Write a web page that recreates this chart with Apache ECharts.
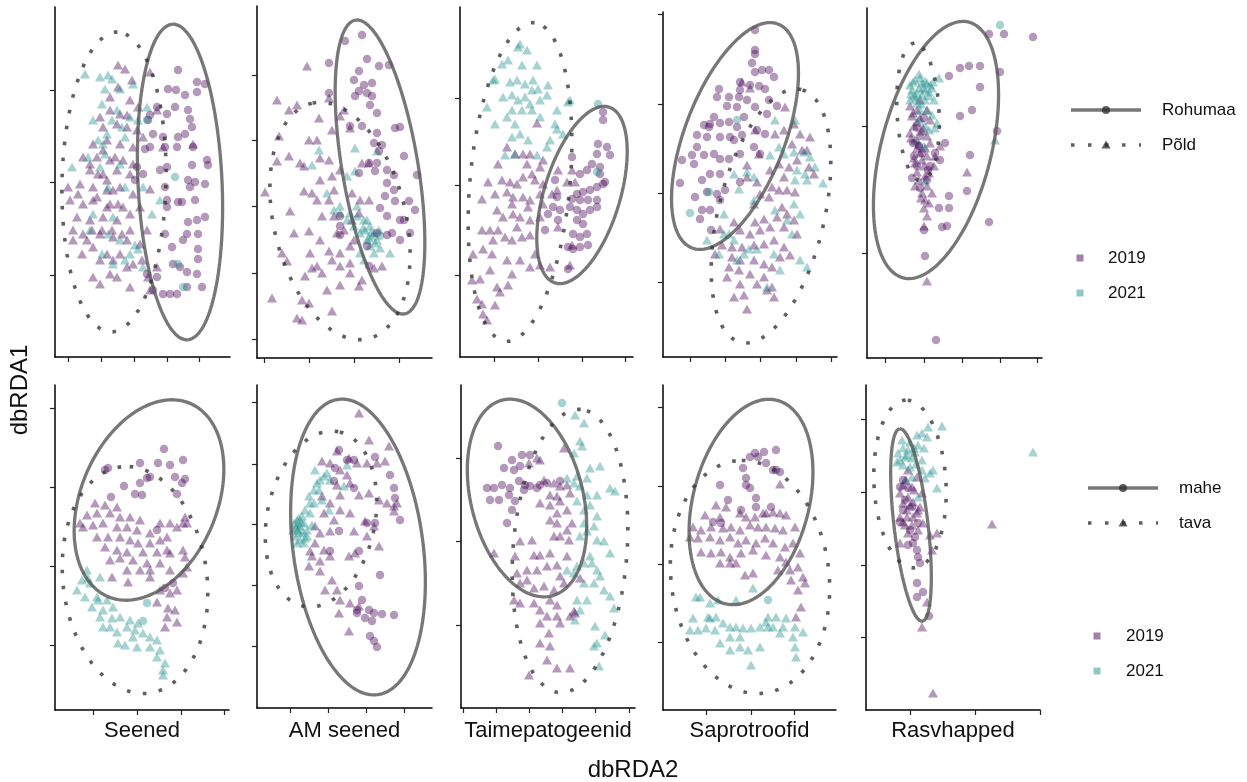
<!DOCTYPE html>
<html>
<head>
<meta charset="utf-8">
<script src="https://cdn.jsdelivr.net/npm/echarts@6/dist/echarts.min.js"></script>
<style>
  html, body { margin: 0; padding: 0; background: #fff; }
  #main { width: 1247px; height: 782px; }
</style>
</head>
<body>
<div id="main"></div>
<script>
// facetid (alumine rida = majandamine, ülemine = elupaik)
const facetNames = ['Seened', 'AM seened', 'Taimepatogeenid', 'Saprotroofid', 'Rasvhapped'];
const habitatLevels = ['Rohumaa', 'Põld'];
const farmingLevels = ['mahe', 'tava'];
const yearLevels = ['2019', '2021'];

// ---- ülemine rida: Rohumaa (ring) / Põld (kolmnurk) ----
// Seened
const p1c19 = [[123,287],[113,268],[121,267],[130,262],[142,275],[150,273],[142,265],[102,250],[120,250],[133,247],[95,242],[112,243],[135,238],[137,230],[98,223],[108,220],[123,220],[130,223],[95,210],[110,210],[122,210],[138,210],[152,197],[153,192],[137,192],[88,183],[112,190],[133,177],[140,175],[150,173],[80,177],[110,170],[123,155],[127,155],[140,157],[150,140],[142,137],[133,135],[112,150],[110,123],[132,123],[128,117],[143,108],[117,110],[143,98],[118,93],[125,90],[132,85],[142,83],[147,70],[132,70],[122,63],[115,63],[108,63],[98,67],[92,83],[102,80],[90,208],[82,190],[143,123],[93,237],[105,187],[112,157],[135,170]];
const p1c21 = [[120,180],[123,93],[128,70],[92,237]];
const p1t19 = [[63,292],[70,288],[77,277],[63,270],[55,260],[75,257],[95,285],[102,247],[83,250],[45,240],[48,230],[62,233],[72,230],[82,227],[88,220],[38,213],[52,217],[65,213],[78,210],[28,200],[42,200],[55,197],[68,197],[78,193],[35,187],[48,183],[62,187],[75,183],[25,173],[38,170],[52,167],[65,170],[78,163],[95,168],[15,157],[28,153],[42,160],[55,153],[68,150],[85,150],[22,140],[35,137],[48,140],[62,137],[75,127],[92,127],[18,117],[32,117],[45,123],[58,120],[72,117],[85,113],[27,103],[38,110],[52,103],[65,103],[78,93],[38,80],[45,73],[55,83],[72,90],[62,80],[75,70],[95,67],[93,80],[102,90],[138,213],[108,210],[13,170],[18,127],[52,177],[58,167],[38,157],[23,163],[43,183],[60,200],[48,207],[35,193],[72,242],[55,247],[65,243],[47,127],[57,127],[67,123],[37,127],[75,143],[52,150],[28,123],[45,97],[58,97],[87,97],[63,153]];
const p1t21 = [[30,283],[45,280],[53,282],[50,268],[57,278],[65,268],[78,273],[47,253],[62,247],[75,240],[92,250],[83,237],[38,237],[57,237],[70,220],[48,213],[33,200],[50,203],[65,193],[45,190],[17,190],[70,170],[53,170],[88,170],[105,157],[97,143],[38,143],[58,140],[53,123],[65,117],[80,112],[83,108],[88,90],[47,103],[70,97],[58,93],[75,103],[35,127],[43,217],[52,223],[67,230]];
// AM seened
const p2c19 = [[105,323],[88,317],[110,299],[122,292],[132,293],[72,295],[102,287],[97,278],[107,273],[115,275],[102,267],[110,265],[115,262],[113,253],[120,245],[105,232],[120,225],[138,230],[143,231],[117,215],[125,213],[112,195],[120,195],[130,188],[137,183],[118,187],[147,202],[160,183],[130,175],[137,168],[128,162],[138,157],[152,157],[158,148],[123,150],[130,142],[143,138],[120,125],[135,125],[153,125],[147,138],[83,132],[83,123],[143,118],[110,112],[130,123],[102,185],[83,142],[72,265],[122,207],[112,92],[93,232],[98,262]];
const p2c21 = [[123,122]];
const p2t19 = [[50,292],[20,258],[40,253],[32,248],[72,260],[62,240],[22,222],[52,218],[60,218],[75,228],[83,242],[93,230],[87,248],[20,197],[32,202],[43,195],[47,192],[63,200],[72,198],[83,188],[8,166],[33,147],[47,167],[55,165],[60,158],[72,158],[77,168],[95,165],[103,158],[112,158],[65,142],[77,142],[52,127],[63,118],[53,105],[72,107],[25,105],[30,97],[55,90],[65,85],[75,98],[83,92],[93,85],[102,72],[83,73],[70,68],[48,82],[15,60],[45,58],[52,55],[40,40],[45,38],[75,47],[93,95],[97,118],[93,112],[117,90],[125,92],[105,195],[112,195],[105,78],[60,92],[83,105],[37,125],[80,125],[87,128],[95,138],[102,145],[63,178],[75,182]];
const p2t21 = [[62,208],[98,210],[98,187],[55,193],[90,182],[70,165],[83,152],[120,207],[93,145],[100,142],[107,138],[113,132],[117,125],[120,118],[110,118],[103,125],[97,132],[90,138],[83,145],[77,148],[113,112],[123,110],[133,105],[103,105],[107,98],[117,105],[100,152],[108,128],[115,122],[122,128],[110,138],[112,120],[118,115],[106,130],[114,126]];
// Taimepatogeenid
const p3c19 = [[143,245],[143,237],[138,213],[147,210],[150,202],[137,203],[132,193],[140,190],[127,187],[120,183],[143,173],[137,170],[145,175],[130,167],[123,165],[117,163],[112,158],[120,157],[128,157],[137,157],[110,150],[117,147],[123,143],[130,147],[137,150],[117,137],[123,133],[113,123],[120,120],[127,123],[108,110],[113,108],[120,110],[128,112],[97,160],[93,150],[88,143],[98,137],[85,127],[95,177],[112,200],[100,147],[140,183],[108,88]];
const p3c21 = [[138,253],[137,185]];
const p3t19 = [[77,234],[47,210],[55,203],[63,203],[70,203],[80,190],[28,175],[42,177],[50,175],[57,173],[63,180],[72,183],[83,173],[92,163],[22,158],[35,163],[47,165],[53,160],[63,160],[70,157],[80,163],[83,153],[97,167],[37,147],[43,140],[53,143],[60,140],[70,137],[80,140],[22,127],[33,117],[45,120],[52,117],[62,120],[70,122],[13,103],[23,108],[32,103],[47,97],[60,97],[70,90],[80,92],[20,78],[30,87],[37,70],[48,72],[22,53],[35,52],[27,37],[23,43],[17,58],[40,65],[52,83],[75,103],[90,90],[98,130],[112,112],[110,92],[68,150],[57,130],[38,127],[52,153],[107,175],[112,187],[98,187],[115,175],[83,197],[12,77],[38,193],[67,193],[75,177],[30,127]];
const p3t21 = [[60,313],[67,307],[58,310],[42,293],[48,297],[62,292],[77,292],[35,278],[50,275],[57,277],[65,273],[73,277],[78,268],[88,272],[43,260],[52,262],[58,257],[65,260],[70,253],[80,257],[87,262],[27,250],[35,233],[52,247],[62,247],[72,247],[80,240],[95,233],[97,228],[52,220],[60,223],[68,217],[45,202],[55,203],[77,202],[90,217],[103,223],[108,255],[110,257],[97,247],[55,233],[47,240],[33,277],[72,267],[87,210]];
// Saprotroofid
const p4c19 = [[92,327],[92,307],[92,303],[89,294],[92,285],[99,287],[106,287],[111,280],[77,275],[87,272],[96,271],[102,268],[56,268],[77,267],[54,260],[66,260],[76,260],[84,257],[106,257],[114,251],[64,251],[74,250],[92,250],[104,243],[47,233],[57,234],[66,235],[41,232],[46,230],[74,230],[34,222],[44,220],[57,220],[67,220],[79,222],[94,227],[102,223],[29,202],[41,202],[51,203],[57,198],[66,198],[77,203],[19,197],[31,193],[47,183],[57,183],[77,175],[39,177],[17,174],[32,160],[44,165],[54,163],[62,167],[39,147],[47,147],[57,157],[37,138],[48,127],[91,210],[97,203],[34,210],[71,217],[51,240],[81,240]];
const p4c21 = [[74,237],[46,165],[27,144]];
const p4t19 = [[79,275],[87,269],[122,250],[92,227],[112,223],[121,227],[131,233],[137,223],[147,220],[129,213],[139,207],[84,192],[84,180],[94,175],[116,193],[126,190],[134,197],[144,207],[146,190],[151,183],[109,170],[116,167],[124,167],[132,165],[106,160],[119,150],[124,143],[114,140],[101,138],[92,135],[71,135],[57,128],[77,127],[87,123],[97,127],[107,130],[121,130],[131,137],[134,123],[59,112],[69,110],[79,110],[91,112],[101,113],[111,117],[121,110],[69,100],[77,97],[91,97],[101,93],[109,90],[117,100],[127,102],[66,90],[76,87],[87,83],[101,80],[109,70],[111,60],[71,60],[81,62],[84,48],[94,73],[104,67],[52,103],[64,80],[77,73],[96,203],[107,187],[121,180],[91,153],[97,163]];
const p4t21 = [[112,237],[132,237],[116,210],[107,202],[121,203],[131,205],[141,205],[134,187],[142,183],[147,200],[152,190],[160,174],[132,177],[144,177],[71,183],[76,168],[84,185],[91,180],[61,143],[66,123],[44,117],[56,103],[71,117],[81,103],[86,108],[94,108],[111,103],[124,137],[137,143],[131,153],[112,147],[129,123],[137,97],[144,90],[104,70],[74,97],[117,87],[61,123],[91,157]];
// Rasvhapped
const p5c19 = [[82,282],[93,290],[102,292],[113,292],[113,271],[122,324],[137,324],[166,321],[105,248],[93,242],[133,286],[130,227],[78,215],[73,198],[103,203],[100,167],[82,162],[72,150],[82,150],[75,131],[80,132],[122,136],[58,102],[69,18],[57,128],[60,178],[50,192],[47,202],[53,222],[52,212],[63,192],[68,205],[50,230],[57,240],[46,215],[55,205],[61,188],[45,180],[53,170]];
const p5c21 = [[133,333]];
const p5t19 = [[43,252],[50,248],[45,242],[53,240],[47,232],[55,227],[43,225],[60,222],[48,218],[63,215],[53,205],[60,202],[68,202],[48,195],[57,192],[62,185],[52,178],[60,172],[55,165],[58,158],[57,150],[60,142],[57,132],[100,186],[60,77],[53,258],[63,238],[73,212],[67,192],[65,165],[46,245],[50,236],[56,230],[44,220],[52,214],[58,210],[47,200],[55,198],[50,186],[58,182],[48,172],[54,160],[62,155],[50,210],[60,248]];
const p5t21 = [[43,273],[48,278],[53,280],[58,277],[63,273],[72,280],[45,268],[52,270],[58,268],[65,270],[47,262],[55,263],[62,262],[50,255],[58,258],[43,258],[53,248],[60,248],[65,243],[70,235],[52,238],[58,232],[50,217],[57,212],[62,228],[68,230],[58,177],[128,218],[55,275],[50,265],[67,258],[60,275],[46,276],[52,284],[56,270],[49,260],[62,266],[54,254],[44,264],[66,276]];

// ---- alumine rida: mahe (ring) / tava (kolmnurk) ----
const p6c19 = [[109,261],[85,247],[103,247],[128,250],[115,245],[53,242],[50,240],[120,233],[130,231],[127,227],[92,232],[95,233],[85,227],[69,224],[80,216],[87,215],[122,216],[56,213],[118,127],[110,122],[102,180]];
const p6c21 = [[92,107],[88,89]];
const p6t19 = [[40,207],[50,205],[62,203],[32,195],[42,197],[55,197],[65,193],[75,193],[85,190],[28,183],[38,185],[48,187],[62,183],[72,183],[82,180],[95,177],[105,187],[115,187],[122,183],[130,193],[132,187],[42,173],[53,173],[65,173],[75,170],[83,167],[95,167],[105,170],[112,160],[50,163],[62,160],[72,158],[88,158],[102,158],[115,157],[128,160],[130,153],[55,150],[65,152],[78,150],[92,147],[105,147],[115,140],[128,137],[57,133],[73,128],[95,133],[105,120],[115,117],[122,120],[102,108],[113,102],[120,100],[112,93],[122,88],[110,83],[95,140],[85,140],[72,140],[132,143],[128,187],[112,173],[25,187]];
const p6t21 = [[32,140],[27,130],[22,120],[35,127],[45,133],[30,113],[42,113],[52,110],[37,103],[48,100],[58,103],[45,93],[57,92],[65,93],[75,90],[83,87],[48,83],[62,78],[72,83],[78,73],[63,67],[70,65],[82,63],[95,73],[102,70],[88,77],[95,63],[105,60],[102,53],[110,47],[108,40],[108,35],[80,80],[43,110],[55,83],[33,132]];
const p7c19 = [[82,258],[90,248],[97,248],[118,251],[78,240],[77,227],[97,220],[110,185],[118,185],[133,233],[137,220],[138,210],[143,188],[82,177],[102,157],[123,133],[102,122],[105,108],[100,98],[112,98],[117,95],[125,94],[137,93],[108,90],[115,87],[113,72],[117,67],[120,61],[100,95],[73,157]];
const p7c21 = [];
const p7t19 = [[102,295],[112,268],[132,262],[80,257],[92,250],[100,245],[110,245],[120,245],[128,247],[65,247],[73,245],[83,238],[90,233],[80,223],[93,225],[102,213],[112,215],[122,208],[137,197],[140,205],[65,212],[73,205],[83,198],[93,195],[67,195],[77,188],[58,182],[63,175],[73,177],[97,177],[110,172],[122,162],[58,165],[67,158],[55,152],[63,147],[73,152],[92,152],[98,155],[52,142],[63,137],[75,128],[80,118],[68,118],[83,108],[93,105],[102,102],[82,95],[92,77],[53,157],[117,182],[130,205],[137,202],[108,187],[83,213]];
const p7t21 = [[37,185],[40,188],[43,182],[42,175],[38,172],[47,185],[50,178],[45,192],[48,198],[53,205],[52,212],[57,218],[60,225],[63,228],[70,235],[67,232],[62,218],[57,205],[53,195],[50,172],[43,168],[40,165],[47,165],[55,183],[90,243],[87,222],[73,228],[58,238],[65,208],[72,198],[39,180],[41,178],[44,186],[46,176],[36,178],[40,183],[42,190],[48,170]];
const p8c19 = [[37,262],[61,253],[69,253],[51,248],[43,240],[53,238],[59,242],[26,220],[33,220],[41,223],[49,220],[58,227],[64,223],[29,208],[38,208],[48,213],[54,207],[63,218],[69,222],[76,220],[79,223],[51,198],[46,185],[86,225],[99,227]];
const p8c21 = [[101,305]];
const p8t19 = [[68,245],[76,250],[79,248],[103,260],[83,228],[93,225],[99,222],[106,223],[89,213],[96,212],[109,215],[79,205],[89,203],[99,207],[96,195],[106,198],[111,185],[106,178],[99,172],[108,168],[93,172],[89,155],[79,153],[73,153],[59,167],[33,155],[54,152],[66,138],[76,138],[86,142],[96,143],[106,152],[59,125],[66,128],[73,120],[83,122],[93,118],[103,125],[99,132],[53,108],[59,105],[89,108],[96,103],[73,105],[79,98],[86,92],[96,92],[79,85],[88,75],[99,85],[89,62],[86,48],[96,40],[109,40],[68,33],[79,65],[56,135],[119,130],[113,97],[109,92],[114,95],[71,168],[96,185],[89,188]];
const p8t21 = [[114,293],[123,285],[119,267],[121,262],[113,255],[129,240],[139,242],[106,230],[116,232],[126,230],[119,222],[113,225],[149,220],[154,217],[136,213],[126,213],[116,207],[129,203],[123,198],[136,192],[123,185],[133,182],[126,177],[119,172],[136,168],[143,167],[149,155],[129,152],[123,145],[116,142],[131,145],[136,138],[139,132],[133,125],[143,118],[149,112],[153,100],[116,108],[126,108],[119,98],[114,88],[134,82],[144,73],[136,65],[133,62],[138,42],[123,125],[113,135],[106,138]];
const p9c19 = [[87,253],[92,257],[101,258],[113,260],[95,253],[103,247],[110,240],[117,238],[80,242],[57,225],[83,225],[87,222],[65,210],[93,212],[78,200],[93,203],[50,188],[58,187],[108,203],[83,232],[113,240]];
const p9c21 = [[105,110]];
const p9t19 = [[117,226],[53,205],[63,203],[42,195],[57,193],[77,197],[83,193],[92,193],[103,197],[110,198],[117,197],[123,195],[30,183],[38,180],[48,183],[60,182],[68,183],[77,180],[87,185],[95,183],[103,183],[112,182],[120,180],[132,183],[27,173],[35,172],[47,173],[57,170],[67,173],[75,167],[83,170],[93,167],[102,172],[110,167],[122,163],[130,167],[48,157],[58,158],[67,153],[78,157],[90,160],[103,155],[117,153],[123,148],[137,157],[135,143],[128,130],[140,133],[142,127],[135,120],[67,147],[73,147],[82,135],[90,137],[115,140],[127,140],[138,103],[133,93],[38,158],[57,147],[100,197]];
const p9t21 = [[90,122],[33,113],[37,113],[55,110],[47,107],[73,110],[30,92],[45,93],[53,93],[27,80],[35,80],[43,82],[52,80],[60,87],[67,83],[73,83],[80,82],[88,82],[97,83],[105,93],[113,93],[120,83],[132,83],[140,78],[57,67],[67,60],[77,63],[85,60],[97,63],[105,83],[117,77],[130,73],[132,63],[133,53],[88,45],[103,88],[110,83],[123,92],[47,92],[67,73],[77,73]];
const p10c19 = [[37,230],[34,223],[42,222],[39,210],[46,203],[37,200],[52,187],[44,180],[47,167],[51,160],[52,153],[54,147],[51,127],[57,118],[51,113],[63,94],[34,188],[42,165],[49,173]];
const p10c21 = [];
const p10t19 = [[42,240],[51,233],[37,225],[46,223],[34,217],[42,213],[56,217],[37,207],[47,208],[54,203],[41,200],[51,197],[57,187],[37,188],[46,185],[42,177],[64,175],[71,177],[34,167],[66,160],[61,108],[56,83],[67,17],[126,186],[47,193],[41,193],[52,180],[34,193],[40,230],[48,220],[44,205],[52,200],[39,185]];
const p10t21 = [[62,283],[76,284],[51,275],[56,277],[61,273],[44,268],[52,265],[37,262],[42,260],[49,258],[32,257],[39,253],[46,252],[56,250],[31,248],[37,245],[44,243],[67,240],[59,232],[71,222],[52,213],[39,230],[46,233],[167,258],[64,237],[56,240],[36,270],[48,262],[58,262],[34,250],[50,246],[41,255]];

const circle2019 = [p1c19, p2c19, p3c19, p4c19, p5c19, p6c19, p7c19, p8c19, p9c19, p10c19];
const circle2021 = [p1c21, p2c21, p3c21, p4c21, p5c21, p6c21, p7c21, p8c21, p9c21, p10c21];
const tri2019 = [p1t19, p2t19, p3t19, p4t19, p5t19, p6t19, p7t19, p8t19, p9t19, p10t19];
const tri2021 = [p1t21, p2t21, p3t21, p4t21, p5t21, p6t21, p7t21, p8t21, p9t21, p10t21];

// telje jaotised (ilma siltideta)
const xTicks = [[13,46,79,112,144],[7,52,97,142],[34,78,122,165],[27,62,97,133,168],[18,57,95,133,170],
                [38,82,126,169],[33,71,109,147],[2,35,68,101,134,168],[43,88,131],[44,109,174]];
const yTicks = [[82,175,267],[19,85,152,218,283],[82,172,259],[75,164,253,343],[105,232],
                [65,144,223,302],[62,123,184,244,306],[83,167,250],[68,146,224,303],[73,145,218,291]];

// ellipsid: keskpunkt x, y, pooltelg a, pooltelg b, nurk (kraadi)
const ellRing = [[125,175,158,42,92.7],[123,191,149,38,99.5],[122,162,92,38,73],[72,221,120,50,69],[69,208,132,55,75.6],
                 [94,210,105,68,67],[101,161,149,65,97.6],[66,210,101,56,104.2],[88,208,105,58,75.6],[45,185,97,17,96.7]];
const ellTri = [[59,175,150,52,88.7],[83,137,121,66,103.5],[60,175,160,50,84.8],[108,141,130,53,76.5],[51,246,69,21,93],
                [80,130,114,72,97],[64,189,89,54,78.8],[109,157,142,57,85.7],[87,133,117,79,97],[44,226,84,36,93]];

// paneelide asukohad: vasak, ülemine, laius, kõrgus
const panelBox = [[55,7,175,350],[257,6,175,352],[460,7,173,350],[663,12,174,345],[867,8,175,350],
                  [55,385,174,325],[257,385,175,323],[461,385,174,323],[663,385,173,325],[866,385,174,325]];

const PURPLE = 'rgba(68,1,84,0.5)';
const TEAL = 'rgba(33,144,140,0.5)';
const FONT = '"Liberation Sans", Arial, sans-serif';

function ellipse(p) {
  const cx = p[0], cy = p[1], a = p[2], b = p[3], t = p[4] * Math.PI / 180;
  const out = [];
  for (let k = 0; k <= 160; k++) {
    const u = k / 160 * 2 * Math.PI;
    out.push([cx + a * Math.cos(u) * Math.cos(t) - b * Math.sin(u) * Math.sin(t),
              cy + a * Math.cos(u) * Math.sin(t) + b * Math.sin(u) * Math.cos(t)]);
  }
  return out;
}

const grids = [], xAxes = [], yAxes = [], series = [];
panelBox.forEach(function (box, i) {
  grids.push({ left: box[0], top: box[1], width: box[2], height: box[3], containLabel: false, show: false });
  const axisCommon = {
    type: 'value', gridIndex: i,
    axisLine: { show: true, onZero: false, lineStyle: { color: '#000', width: 1.5 } },
    axisLabel: { show: false },
    splitLine: { show: false }
  };
  xAxes.push(Object.assign({}, axisCommon, { min: 0, max: box[2],
    axisTick: { show: true, length: 5, customValues: xTicks[i], lineStyle: { color: '#222', width: 1.2 } } }));
  yAxes.push(Object.assign({}, axisCommon, { min: 0, max: box[3],
    axisTick: { show: true, length: 5, customValues: yTicks[i], lineStyle: { color: '#222', width: 1.2 } } }));

  const base = { type: 'scatter', xAxisIndex: i, yAxisIndex: i, silent: true };
  series.push(Object.assign({}, base, { data: tri2019[i], symbol: 'triangle', symbolSize: [10, 9], itemStyle: { color: PURPLE } }));
  series.push(Object.assign({}, base, { data: tri2021[i], symbol: 'triangle', symbolSize: [10, 9], itemStyle: { color: TEAL } }));
  series.push(Object.assign({}, base, { data: circle2019[i], symbol: 'circle', symbolSize: 8.5, itemStyle: { color: PURPLE } }));
  series.push(Object.assign({}, base, { data: circle2021[i], symbol: 'circle', symbolSize: 8.5, itemStyle: { color: TEAL } }));
  series.push({ type: 'line', xAxisIndex: i, yAxisIndex: i, silent: true, showSymbol: false, symbol: 'none', z: 5,
    data: ellipse(ellRing[i]), lineStyle: { color: 'rgba(85,85,85,0.8)', width: 3.3 } });
  series.push({ type: 'line', xAxisIndex: i, yAxisIndex: i, silent: true, showSymbol: false, symbol: 'none', z: 5,
    data: ellipse(ellTri[i]), lineStyle: { color: 'rgba(55,55,55,0.8)', width: 3.6, type: [3.6, 12.5] } });
});

function txt(x, y, s, size, extra) {
  return Object.assign({ type: 'text', x: x, y: y,
    style: { text: s, fill: '#111', font: size + 'px ' + FONT, fontSize: size, fontFamily: FONT,
             textAlign: 'center', align: 'center', textVerticalAlign: 'middle', verticalAlign: 'middle' } }, extra || {});
}
function leftTxt(x, y, s) {
  return { type: 'text', x: x, y: y,
    style: { text: s, fill: '#111', font: '17px ' + FONT, fontSize: 17, fontFamily: FONT,
             textAlign: 'left', align: 'left', textVerticalAlign: 'middle', verticalAlign: 'middle' } };
}
function legendBlock(x0, x1, yLine1, yLine2, ySq1, ySq2, xSq, xText, xLabel, names) {
  const mid = (x0 + x1) / 2;
  return [
    { type: 'line', shape: { x1: x0, y1: yLine1, x2: x1, y2: yLine1 }, style: { stroke: 'rgba(85,85,85,0.8)', lineWidth: 3.3 } },
    { type: 'circle', shape: { cx: mid, cy: yLine1, r: 4 }, style: { fill: 'rgba(40,40,40,0.75)' } },
    leftTxt(xLabel, yLine1, names[0]),
    { type: 'line', shape: { x1: x0, y1: yLine2, x2: x1, y2: yLine2 }, style: { stroke: 'rgba(55,55,55,0.8)', lineWidth: 3.5, lineDash: [3.5, 13.5] } },
    { type: 'polygon', shape: { points: [[mid, yLine2 - 4.5], [mid - 4.5, yLine2 + 3.5], [mid + 4.5, yLine2 + 3.5]] }, style: { fill: 'rgba(40,40,40,0.75)' } },
    leftTxt(xLabel, yLine2, names[1]),
    { type: 'rect', shape: { x: xSq - 3.5, y: ySq1 - 3.5, width: 7, height: 7 }, style: { fill: PURPLE } },
    leftTxt(xText, ySq1, yearLevels[0]),
    { type: 'rect', shape: { x: xSq - 3.5, y: ySq2 - 3.5, width: 7, height: 7 }, style: { fill: TEAL } },
    leftTxt(xText, ySq2, yearLevels[1])
  ];
}

const graphics = [];
facetNames.forEach(function (name, j) {
  const b = panelBox[5 + j];
  graphics.push(txt(b[0] + b[2] / 2, 731, name, 22));
});
graphics.push(txt(633, 770, 'dbRDA2', 24));
graphics.push(txt(20, 390, 'dbRDA1', 24, { rotation: Math.PI / 2 }));
legendBlock(1071, 1141, 110, 145, 258, 293, 1080, 1108, 1162, habitatLevels).forEach(function (g) { graphics.push(g); });
legendBlock(1088, 1158, 488, 523, 636, 671, 1097, 1126, 1179, farmingLevels).forEach(function (g) { graphics.push(g); });

const chart = echarts.init(document.getElementById('main'), null, { renderer: 'canvas' });
chart.setOption({
  backgroundColor: '#fff',
  animation: false,
  grid: grids,
  xAxis: xAxes,
  yAxis: yAxes,
  series: series,
  graphic: graphics
});
</script>
</body>
</html>
